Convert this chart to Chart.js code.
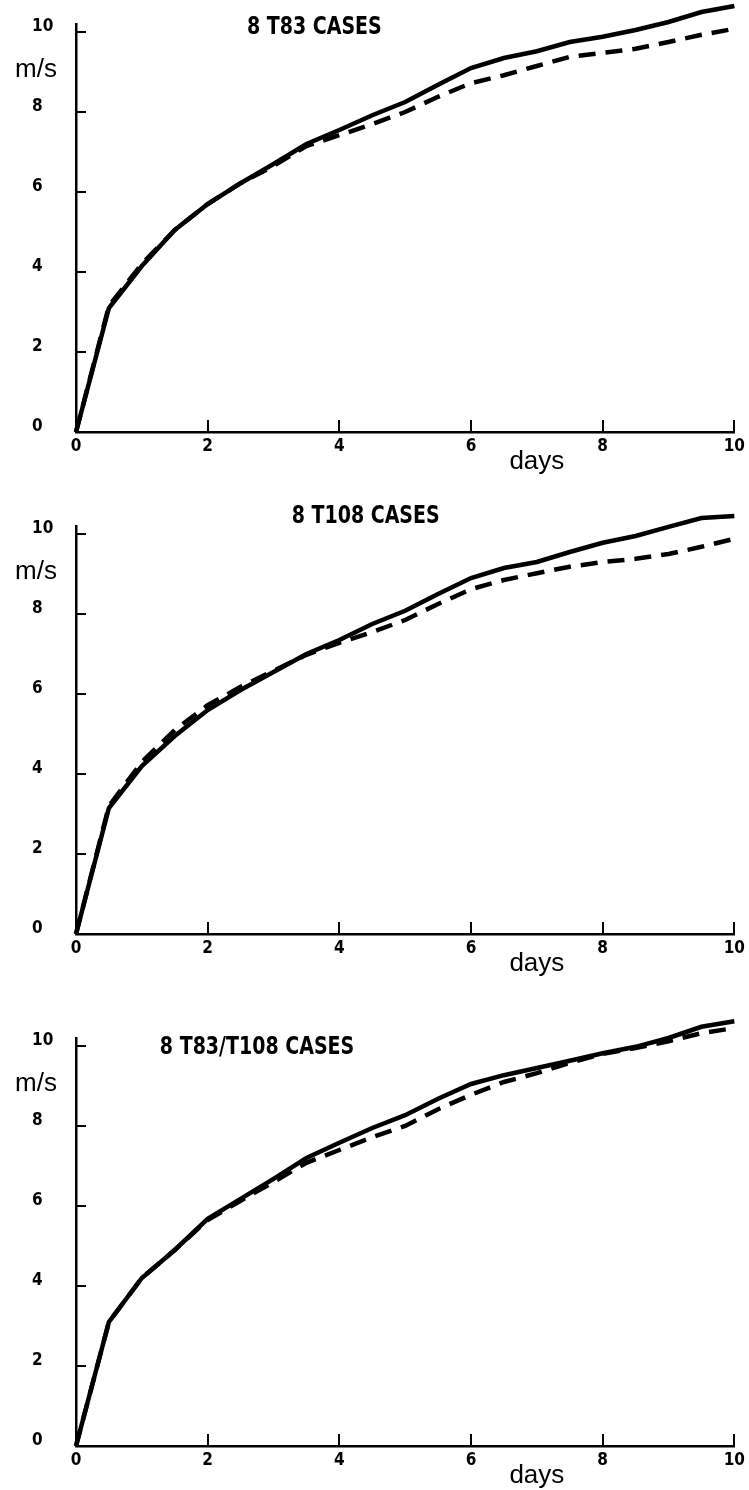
<!DOCTYPE html>
<html>
<head>
<meta charset="utf-8">
<script src="https://cdn.jsdelivr.net/npm/chart.js@4"></script>
<style>
  html, body { margin: 0; padding: 0; background: #fff; }
  body { width: 749px; height: 1490px; position: relative; overflow: hidden; }
  canvas { position: absolute; left: 0; }
</style>
</head>
<body>
<canvas id="c1" width="749" height="476" style="top:0px"></canvas>
<canvas id="c2" width="749" height="476" style="top:502px"></canvas>
<canvas id="c3" width="749" height="476" style="top:1014px"></canvas>
<script>
// days on x axis
const days = [0, 0.5, 1, 1.5, 2, 2.5, 3, 3.5, 4, 4.5, 5, 5.5, 6, 6.5, 7, 7.5, 8, 8.5, 9, 9.5, 10];

// 8 T83 cases
const t83Solid  = [0, 3.10, 4.15, 5.05, 5.70, 6.22, 6.70, 7.20, 7.55, 7.92, 8.25, 8.68, 9.10, 9.35, 9.52, 9.75, 9.88, 10.05, 10.25, 10.50, 10.65];
const t83Dashed = [0, 3.15, 4.20, 5.05, 5.70, 6.22, 6.65, 7.15, 7.42, 7.70, 8.00, 8.38, 8.72, 8.92, 9.15, 9.38, 9.48, 9.58, 9.75, 9.93, 10.08];

// 8 T108 cases
const t108Solid  = [0, 3.15, 4.20, 4.95, 5.60, 6.10, 6.55, 7.00, 7.35, 7.75, 8.08, 8.50, 8.90, 9.15, 9.30, 9.55, 9.78, 9.95, 10.18, 10.40, 10.45];
const t108Dashed = [0, 3.20, 4.30, 5.10, 5.72, 6.18, 6.58, 6.98, 7.28, 7.55, 7.85, 8.25, 8.62, 8.85, 9.02, 9.18, 9.30, 9.38, 9.50, 9.68, 9.88];

// 8 T83/T108 cases
const mixSolid  = [0, 3.10, 4.20, 4.90, 5.68, 6.18, 6.68, 7.20, 7.58, 7.95, 8.27, 8.68, 9.05, 9.27, 9.45, 9.63, 9.82, 9.98, 10.20, 10.48, 10.62];
const mixDashed = [0, 3.10, 4.20, 4.90, 5.65, 6.13, 6.60, 7.08, 7.40, 7.72, 8.00, 8.42, 8.78, 9.10, 9.32, 9.58, 9.80, 9.95, 10.12, 10.32, 10.45];

const titles = ["8 T83 CASES", "8 T108 CASES", "8 T83/T108 CASES"];

const TICK_FONT = '"Liberation Sans Narrow", "DejaVu Sans Condensed", sans-serif';

function toPoints(values) {
    return days.map(function (d, i) { return {x: d, y: values[i]}; });
}

// draws inward tick marks, title, m/s and days
function makeDecor(title, titleX, titleY) {
    return {
        id: 'decor',
        afterDraw: function (chart) {
            let ctx = chart.ctx;
            let xs = chart.scales.x;
            let ys = chart.scales.y;
            ctx.save();
            ctx.strokeStyle = '#000';
            ctx.lineWidth = 2;
            xs.ticks.forEach(function (t) {
                let px = Math.round(xs.getPixelForValue(t.value));
                ctx.beginPath();
                ctx.moveTo(px, ys.bottom);
                ctx.lineTo(px, ys.bottom - 12);
                ctx.stroke();
            });
            ys.ticks.forEach(function (t) {
                let py = Math.round(ys.getPixelForValue(t.value));
                ctx.beginPath();
                ctx.moveTo(xs.left, py);
                ctx.lineTo(xs.left + 10, py);
                ctx.stroke();
            });

            ctx.fillStyle = '#000';
            ctx.textAlign = 'center';
            ctx.textBaseline = 'middle';

            // title, a bit squeezed like the plotter lettering
            ctx.save();
            ctx.translate(xs.getPixelForValue(titleX), titleY);
            ctx.scale(0.88, 1);
            ctx.font = 'bold 24px ' + TICK_FONT;
            ctx.fillText(title, 0, 0);
            ctx.restore();

            ctx.font = '26px "Liberation Sans", Arial, sans-serif';
            ctx.fillText('m/s', 36, ys.getPixelForValue(9.05));
            ctx.fillText('days', xs.getPixelForValue(7.0), ys.bottom + 30);
            ctx.restore();
        }
    };
}

function make_panel(id, solid, dashed, title, titleX, titleY) {
    let ctx = document.getElementById(id).getContext('2d');
    new Chart(ctx, {
        type: 'line',
        data: {
            datasets: [
                {
                    data: toPoints(solid),
                    borderColor: '#000',
                    borderWidth: 4.5,
                    pointRadius: 0,
                    tension: 0,
                    clip: false
                },
                {
                    data: toPoints(dashed),
                    borderColor: '#000',
                    borderWidth: 4.5,
                    borderDash: [17, 10],
                    pointRadius: 0,
                    tension: 0,
                    clip: false
                }
            ]
        },
        options: {
            responsive: false,
            animation: false,
            layout: {padding: {left: 32, right: 10, top: 24, bottom: 0}},
            plugins: {legend: {display: false}, tooltip: {enabled: false}},
            scales: {
                x: {
                    type: 'linear',
                    min: 0,
                    max: 10,
                    afterFit: function (s) { s.height = 44; },
                    grid: {drawOnChartArea: false, drawTicks: false},
                    border: {color: '#000', width: 2.5},
                    ticks: {
                        stepSize: 2,
                        padding: 4,
                        maxRotation: 0,
                        color: '#000',
                        font: {family: TICK_FONT, size: 17, weight: 'bold'}
                    }
                },
                y: {
                    min: 0,
                    max: 10.2,
                    afterFit: function (s) { s.width = 44; },
                    grid: {drawOnChartArea: false, drawTicks: false},
                    border: {color: '#000', width: 2.5},
                    ticks: {
                        stepSize: 2,
                        includeBounds: false,
                        crossAlign: 'far',
                        labelOffset: -5,
                        color: '#000',
                        font: {family: TICK_FONT, size: 17, weight: 'bold'}
                    }
                }
            }
        },
        plugins: [makeDecor(title, titleX, titleY)]
    });
}

document.addEventListener('DOMContentLoaded', function () {
    make_panel('c1', t83Solid, t83Dashed, titles[0], 3.62, 28);
    make_panel('c2', t108Solid, t108Dashed, titles[1], 4.40, 15);
    make_panel('c3', mixSolid, mixDashed, titles[2], 2.75, 34);
});
</script>
</body>
</html>
